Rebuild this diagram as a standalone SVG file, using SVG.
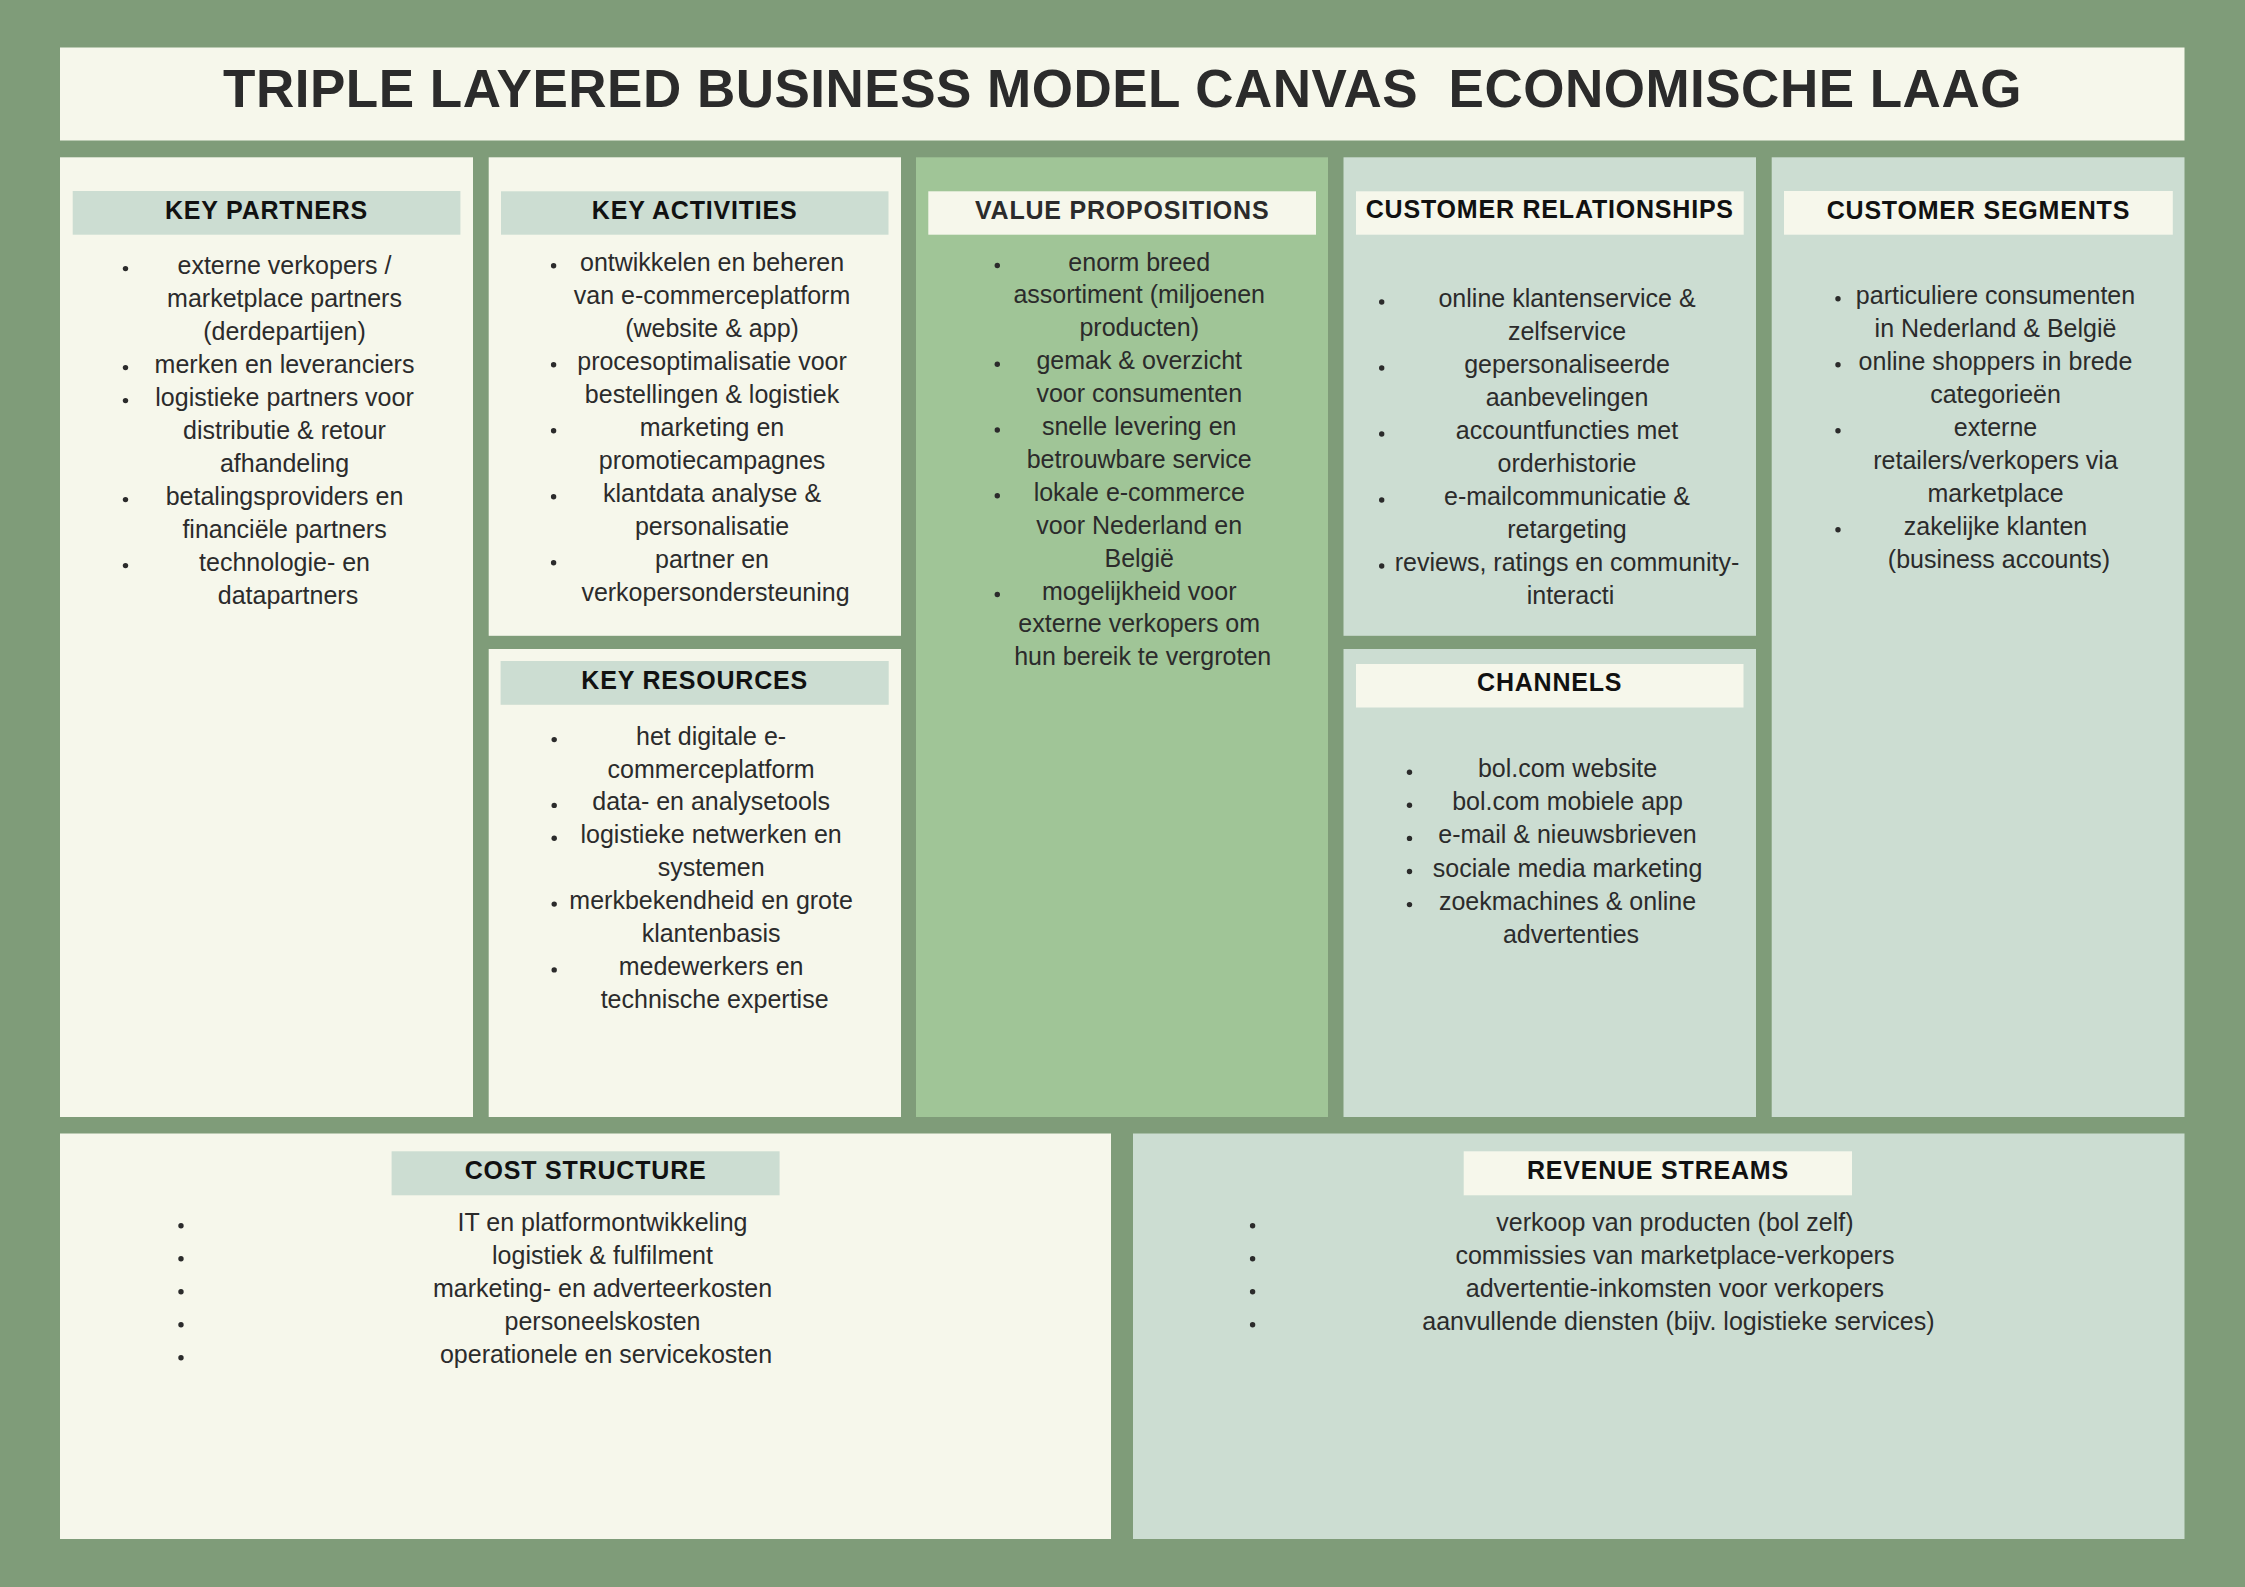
<svg xmlns="http://www.w3.org/2000/svg" width="2245" height="1587" viewBox="0 0 2245 1587">
<style>
.bg{fill:#7f9c79}
.cream{fill:#f6f7eb}
.pale{fill:#ccddd2}
.vp{fill:#a0c597}
.title{font-family:"Liberation Sans",Arial,sans-serif;font-weight:bold;font-size:53px;letter-spacing:0.5px;fill:#2b2b2b;text-anchor:middle}
.hd{font-family:"Liberation Sans",Arial,sans-serif;font-weight:bold;font-size:25px;letter-spacing:0.8px;fill:#111111;text-anchor:middle}
.hd2{fill:#2b2b2b}
.tx{font-family:"Liberation Sans",Arial,sans-serif;font-size:25px;fill:#2b2b2b;text-anchor:middle}
.b{fill:#2b2b2b}
</style>
<rect class="bg" x="0" y="0" width="2245" height="1587"/>

<g id="title">
<rect class="cream" x="60" y="47.5" width="2124.5" height="93"/>
<text class="title" x="1122.5" y="107" xml:space="preserve">TRIPLE LAYERED BUSINESS MODEL CANVAS  ECONOMISCHE LAAG</text>
</g>

<g id="key-partners">
<rect class="cream" x="60" y="157.3" width="413" height="959.7"/>
<rect class="pale" x="72.7" y="191" width="387.7" height="43.7"/>
<text class="hd" x="266.5" y="219">KEY PARTNERS</text>
<g class="b">
<circle cx="125.5" cy="268.6" r="2.7"/>
<circle cx="125.5" cy="367.6" r="2.7"/>
<circle cx="125.5" cy="400.6" r="2.7"/>
<circle cx="125.5" cy="499.6" r="2.7"/>
<circle cx="125.5" cy="565.6" r="2.7"/>
</g>
<text class="tx">
<tspan x="288" y="273.6">externe verkopers /</tspan>
<tspan x="288" y="306.6">marketplace partners</tspan>
<tspan x="288" y="339.6">(derdepartijen)</tspan>
<tspan x="288" y="372.6">merken en leveranciers</tspan>
<tspan x="288" y="405.6">logistieke partners voor</tspan>
<tspan x="288" y="438.6">distributie &amp; retour</tspan>
<tspan x="288" y="471.6">afhandeling</tspan>
<tspan x="288" y="504.6">betalingsproviders en</tspan>
<tspan x="288" y="537.6">financiële partners</tspan>
<tspan x="288" y="570.6">technologie- en</tspan>
<tspan x="288" y="603.6">datapartners</tspan>
</text>
</g>

<g id="key-activities">
<rect class="cream" x="488.7" y="157.3" width="412.3" height="478.5"/>
<rect class="pale" x="501" y="191.3" width="387.5" height="43.4"/>
<text class="hd" x="694.7" y="219">KEY ACTIVITIES</text>
<g class="b">
<circle cx="553.6" cy="265.8" r="2.7"/>
<circle cx="553.6" cy="364.8" r="2.7"/>
<circle cx="553.6" cy="430.8" r="2.7"/>
<circle cx="553.6" cy="496.8" r="2.7"/>
<circle cx="553.6" cy="562.8" r="2.7"/>
</g>
<text class="tx">
<tspan x="715.5" y="270.8">ontwikkelen en beheren</tspan>
<tspan x="715.5" y="303.8">van e-commerceplatform</tspan>
<tspan x="715.5" y="336.8">(website &amp; app)</tspan>
<tspan x="715.5" y="369.8">procesoptimalisatie voor</tspan>
<tspan x="715.5" y="402.8">bestellingen &amp; logistiek</tspan>
<tspan x="715.5" y="435.8">marketing en</tspan>
<tspan x="715.5" y="468.8">promotiecampagnes</tspan>
<tspan x="715.5" y="501.8">klantdata analyse &amp;</tspan>
<tspan x="715.5" y="534.8">personalisatie</tspan>
<tspan x="715.5" y="567.8">partner en</tspan>
<tspan x="715.5" y="600.8">verkopersondersteuning</tspan>
</text>
</g>

<g id="key-resources">
<rect class="cream" x="488.7" y="649" width="412.3" height="468"/>
<rect class="pale" x="500.6" y="661" width="388.1" height="43.8"/>
<text class="hd" x="694.7" y="689">KEY RESOURCES</text>
<g class="b">
<circle cx="554.2" cy="739.6" r="2.7"/>
<circle cx="554.2" cy="805.4" r="2.7"/>
<circle cx="554.2" cy="838.3" r="2.7"/>
<circle cx="554.2" cy="904.1" r="2.7"/>
<circle cx="554.2" cy="969.9" r="2.7"/>
</g>
<text class="tx">
<tspan x="714.6" y="744.6">het digitale e-</tspan>
<tspan x="714.6" y="777.5">commerceplatform</tspan>
<tspan x="714.6" y="810.4">data- en analysetools</tspan>
<tspan x="714.6" y="843.3">logistieke netwerken en</tspan>
<tspan x="714.6" y="876.2">systemen</tspan>
<tspan x="714.6" y="909.1">merkbekendheid en grote</tspan>
<tspan x="714.6" y="942">klantenbasis</tspan>
<tspan x="714.6" y="974.9">medewerkers en</tspan>
<tspan x="714.6" y="1007.8">technische expertise</tspan>
</text>
</g>

<g id="value-propositions">
<rect class="vp" x="916" y="157.3" width="412" height="959.7"/>
<rect class="cream" x="928.3" y="191.3" width="387.7" height="43.4"/>
<text class="hd hd2" x="1122.2" y="218.5">VALUE PROPOSITIONS</text>
<g class="b">
<circle cx="997.3" cy="265.5" r="2.7"/>
<circle cx="997.3" cy="364.2" r="2.7"/>
<circle cx="997.3" cy="430" r="2.7"/>
<circle cx="997.3" cy="495.8" r="2.7"/>
<circle cx="997.3" cy="594.5" r="2.7"/>
</g>
<text class="tx">
<tspan x="1142.7" y="270.5">enorm breed</tspan>
<tspan x="1142.7" y="303.4">assortiment (miljoenen</tspan>
<tspan x="1142.7" y="336.3">producten)</tspan>
<tspan x="1142.7" y="369.2">gemak &amp; overzicht</tspan>
<tspan x="1142.7" y="402.1">voor consumenten</tspan>
<tspan x="1142.7" y="435">snelle levering en</tspan>
<tspan x="1142.7" y="467.9">betrouwbare service</tspan>
<tspan x="1142.7" y="500.8">lokale e-commerce</tspan>
<tspan x="1142.7" y="533.7">voor Nederland en</tspan>
<tspan x="1142.7" y="566.6">België</tspan>
<tspan x="1142.7" y="599.5">mogelijkheid voor</tspan>
<tspan x="1142.7" y="632.4">externe verkopers om</tspan>
<tspan x="1142.7" y="665.3">hun bereik te vergroten</tspan>
</text>
</g>

<g id="customer-relationships">
<rect class="pale" x="1343.5" y="157.3" width="412.5" height="478.5"/>
<rect class="cream" x="1356" y="191.3" width="387.7" height="43.4"/>
<text class="hd" x="1549.8" y="218.3">CUSTOMER RELATIONSHIPS</text>
<g class="b">
<circle cx="1381.7" cy="302" r="2.7"/>
<circle cx="1381.7" cy="368" r="2.7"/>
<circle cx="1381.7" cy="434" r="2.7"/>
<circle cx="1381.7" cy="500" r="2.7"/>
<circle cx="1381.7" cy="566" r="2.7"/>
</g>
<text class="tx">
<tspan x="1570.5" y="306.7">online klantenservice &amp;</tspan>
<tspan x="1570.5" y="339.7">zelfservice</tspan>
<tspan x="1570.5" y="372.7">gepersonaliseerde</tspan>
<tspan x="1570.5" y="405.7">aanbevelingen</tspan>
<tspan x="1570.5" y="438.7">accountfuncties met</tspan>
<tspan x="1570.5" y="471.7">orderhistorie</tspan>
<tspan x="1570.5" y="504.7">e-mailcommunicatie &amp;</tspan>
<tspan x="1570.5" y="537.7">retargeting</tspan>
<tspan x="1570.5" y="570.7">reviews, ratings en community-</tspan>
<tspan x="1570.5" y="603.7">interacti</tspan>
</text>
</g>

<g id="channels">
<rect class="pale" x="1343.5" y="649" width="412.5" height="468"/>
<rect class="cream" x="1356" y="664" width="387.5" height="43.5"/>
<text class="hd" x="1549.7" y="690.7">CHANNELS</text>
<g class="b">
<circle cx="1409.5" cy="772.2" r="2.7"/>
<circle cx="1409.5" cy="805.3" r="2.7"/>
<circle cx="1409.5" cy="838.4" r="2.7"/>
<circle cx="1409.5" cy="871.5" r="2.7"/>
<circle cx="1409.5" cy="904.6" r="2.7"/>
</g>
<text class="tx">
<tspan x="1571" y="777.2">bol.com website</tspan>
<tspan x="1571" y="810.3">bol.com mobiele app</tspan>
<tspan x="1571" y="843.4">e-mail &amp; nieuwsbrieven</tspan>
<tspan x="1571" y="876.5">sociale media marketing</tspan>
<tspan x="1571" y="909.6">zoekmachines &amp; online</tspan>
<tspan x="1571" y="942.7">advertenties</tspan>
</text>
</g>

<g id="customer-segments">
<rect class="pale" x="1771.7" y="157.3" width="412.8" height="959.7"/>
<rect class="cream" x="1784" y="191" width="388.8" height="43.7"/>
<text class="hd" x="1978.4" y="219">CUSTOMER SEGMENTS</text>
<g class="b">
<circle cx="1838" cy="298.7" r="2.7"/>
<circle cx="1838" cy="364.7" r="2.7"/>
<circle cx="1838" cy="430.7" r="2.7"/>
<circle cx="1838" cy="529.7" r="2.7"/>
</g>
<text class="tx">
<tspan x="1999" y="303.7">particuliere consumenten</tspan>
<tspan x="1999" y="336.7">in Nederland &amp; België</tspan>
<tspan x="1999" y="369.7">online shoppers in brede</tspan>
<tspan x="1999" y="402.7">categorieën</tspan>
<tspan x="1999" y="435.7">externe</tspan>
<tspan x="1999" y="468.7">retailers/verkopers via</tspan>
<tspan x="1999" y="501.7">marketplace</tspan>
<tspan x="1999" y="534.7">zakelijke klanten</tspan>
<tspan x="1999" y="567.7">(business accounts)</tspan>
</text>
</g>

<g id="cost-structure">
<rect class="cream" x="60" y="1133.5" width="1051" height="405.5"/>
<rect class="pale" x="391.6" y="1151.3" width="388" height="44"/>
<text class="hd" x="585.6" y="1178.7">COST STRUCTURE</text>
<g class="b">
<circle cx="181" cy="1225.7" r="2.7"/>
<circle cx="181" cy="1258.7" r="2.7"/>
<circle cx="181" cy="1291.7" r="2.7"/>
<circle cx="181" cy="1324.7" r="2.7"/>
<circle cx="181" cy="1357.7" r="2.7"/>
</g>
<text class="tx">
<tspan x="606" y="1230.7">IT en platformontwikkeling</tspan>
<tspan x="606" y="1263.7">logistiek &amp; fulfilment</tspan>
<tspan x="606" y="1296.7">marketing- en adverteerkosten</tspan>
<tspan x="606" y="1329.7">personeelskosten</tspan>
<tspan x="606" y="1362.7">operationele en servicekosten</tspan>
</text>
</g>

<g id="revenue-streams">
<rect class="pale" x="1133" y="1133.5" width="1051.5" height="405.5"/>
<rect class="cream" x="1463.7" y="1151.3" width="388.3" height="44"/>
<text class="hd" x="1657.9" y="1178.7">REVENUE STREAMS</text>
<g class="b">
<circle cx="1252.6" cy="1225.7" r="2.7"/>
<circle cx="1252.6" cy="1258.7" r="2.7"/>
<circle cx="1252.6" cy="1291.7" r="2.7"/>
<circle cx="1252.6" cy="1324.7" r="2.7"/>
</g>
<text class="tx">
<tspan x="1678.4" y="1230.7">verkoop van producten (bol zelf)</tspan>
<tspan x="1678.4" y="1263.7">commissies van marketplace-verkopers</tspan>
<tspan x="1678.4" y="1296.7">advertentie-inkomsten voor verkopers</tspan>
<tspan x="1678.4" y="1329.7">aanvullende diensten (bijv. logistieke services)</tspan>
</text>
</g>

<g id="connectors"></g>
</svg>
